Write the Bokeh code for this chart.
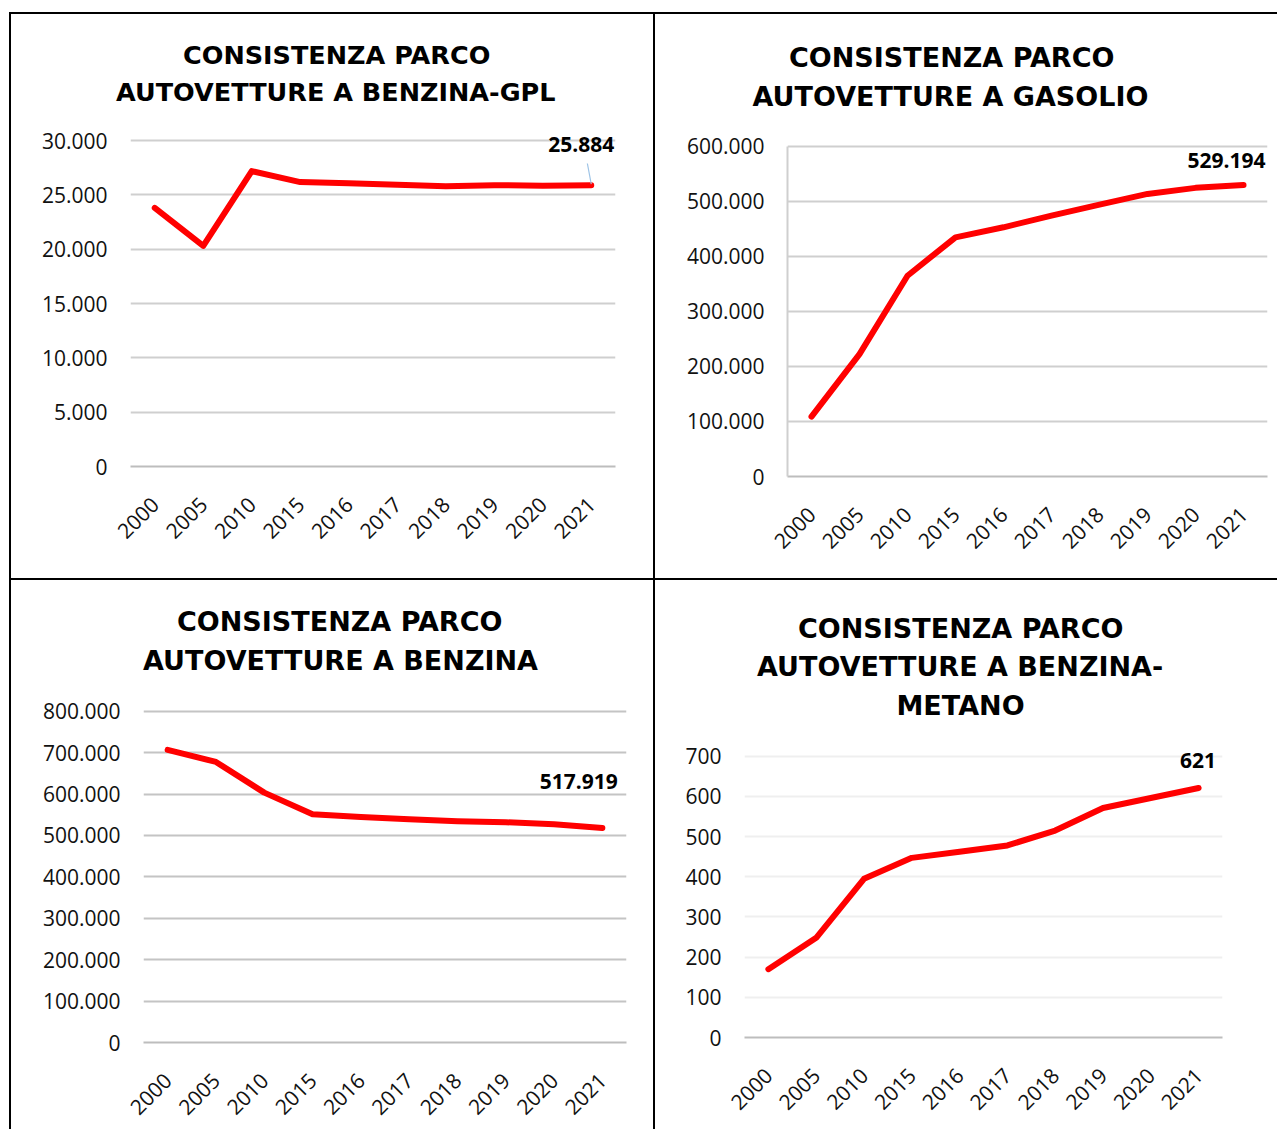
from math import pi
from bokeh.plotting import figure
from bokeh.models import (FactorRange, Range1d, FixedTicker, Title, LabelSet, Spacer,
                          ColumnDataSource)
from bokeh.core.properties import value
from bokeh.layouts import row, column
from bokeh.transform import dodge
from bokeh.embed import file_html
from bokeh.resources import INLINE

# ---------------- data ----------------
years = ["2000", "2005", "2010", "2015", "2016", "2017", "2018", "2019", "2020", "2021"]

gpl_values = [23800, 20300, 27180, 26170, 26070, 25930, 25800, 25890, 25830, 25884]
gasolio_values = [108700, 222200, 364500, 434200, 452400, 473600, 493600, 513000, 524000, 529194]
benzina_values = [706500, 677500, 603400, 551200, 544700, 539100, 534300, 531900, 527000, 517919]
metano_values = [170, 248, 395, 447, 462, 478, 515, 571, 596, 621]

gpl_ticks = [0, 5000, 10000, 15000, 20000, 25000, 30000]
gpl_tick_labels = ["0", "5.000", "10.000", "15.000", "20.000", "25.000", "30.000"]
gasolio_ticks = [0, 100000, 200000, 300000, 400000, 500000, 600000]
gasolio_tick_labels = ["0", "100.000", "200.000", "300.000", "400.000", "500.000", "600.000"]
benzina_ticks = [0, 100000, 200000, 300000, 400000, 500000, 600000, 700000, 800000]
benzina_tick_labels = ["0", "100.000", "200.000", "300.000", "400.000", "500.000",
                       "600.000", "700.000", "800.000"]
metano_ticks = [0, 100, 200, 300, 400, 500, 600, 700]
metano_tick_labels = ["0", "100", "200", "300", "400", "500", "600", "700"]

gpl_title = ["CONSISTENZA PARCO", "AUTOVETTURE A BENZINA-GPL"]
gasolio_title = ["CONSISTENZA PARCO", "AUTOVETTURE A GASOLIO"]
benzina_title = ["CONSISTENZA PARCO", "AUTOVETTURE A BENZINA"]
metano_title = ["CONSISTENZA PARCO", "AUTOVETTURE A BENZINA-", "METANO"]

TITLE_FONT = "DejaVu Sans"
TICK_FONT = "Open Sans"


def it_fmt(v):
    return f"{v:,}".replace(",", ".")


def make_chart(values, ticks, tick_labels, title_lines, title_size, title_offsets, title_standoffs,
               width, height, mb, top_extra_px, tick_span_px,
               yaxis_line, grid_color, zero_color, lab_off):
    # mb = (left, right, top, bottom); frame bottom sits on the zero line,
    # the frame is extended upwards by top_extra_px above the highest tick.
    y_end = ticks[-1] * (1 + top_extra_px / tick_span_px)
    p = figure(x_range=FactorRange(factors=years), y_range=Range1d(ticks[0], y_end),
               width=width, height=height, output_backend="svg", toolbar_location=None,
               title=None, frame_align=False,
               min_border_left=mb[0], min_border_right=mb[1],
               min_border_top=mb[2], min_border_bottom=mb[3],
               outline_line_color=None, border_fill_color="white", background_fill_color="white")

    # title lines: the nearest line to the frame is added first
    items = list(zip(title_lines, title_offsets, title_standoffs))
    for line, off, so in reversed(items):
        p.add_layout(Title(text=line, align="left", offset=off, standoff=so,
                           text_font=TITLE_FONT, text_font_style="bold",
                           text_font_size=f"{title_size}px", text_color="#000000"), "above")

    p.yaxis.ticker = FixedTicker(ticks=ticks)
    p.yaxis.bounds = (ticks[0], ticks[-1])
    p.yaxis.major_label_overrides = {t: s for t, s in zip(ticks, tick_labels)}
    p.yaxis.axis_line_color = yaxis_line
    p.yaxis.axis_line_width = 2
    p.yaxis.major_tick_line_color = None
    p.yaxis.minor_tick_line_color = None
    p.yaxis.major_tick_out = 0
    p.yaxis.major_label_standoff = 23
    p.yaxis.major_label_text_font = TICK_FONT
    p.yaxis.major_label_text_font_size = "21px"
    p.yaxis.major_label_text_color = "#111111"

    p.xaxis.axis_line_color = zero_color
    p.xaxis.axis_line_width = 2
    p.xaxis.major_tick_line_color = None
    p.xaxis.major_tick_out = 0
    p.xaxis.major_label_orientation = pi / 4
    p.xaxis.major_label_standoff = 34
    p.xaxis.major_label_text_font = TICK_FONT
    p.xaxis.major_label_text_font_size = "21px"
    p.xaxis.major_label_text_color = "#111111"

    p.xgrid.visible = False
    p.ygrid.ticker = FixedTicker(ticks=ticks)
    p.ygrid.grid_line_color = grid_color
    p.ygrid.grid_line_width = 2

    p.line(x=years, y=values, line_color="#ff0000", line_width=6,
           line_cap="round", line_join="round")

    lab_src = ColumnDataSource(dict(x=[years[-1]], y=[values[-1]], t=[it_fmt(values[-1])]))
    p.add_layout(LabelSet(x="x", y="y", text="t", source=lab_src,
                          x_offset=lab_off[0], y_offset=lab_off[1],
                          text_align="center", text_baseline="middle",
                          text_font=value(TICK_FONT), text_font_style="bold",
                          text_font_size="21px", text_color="#000000"))
    return p


tl = make_chart(gpl_values, gpl_ticks, gpl_tick_labels, gpl_title, 25.5,
                [52.5, -14.5], [5, 4],
                642, 564, (119, 38, 94, 112), 32, 326,
                None, "#cfcfcf", "#bdbdbd", (-10, 41))
# leader line for the GPL data label
leader = ColumnDataSource(dict(x=[years[-1]], y0=[gpl_values[-1] + 100], y1=[gpl_values[-1] + 2000]))
tl.segment(x0=dodge("x", 0.0, range=tl.x_range), y0="y0",
           x1=dodge("x", -0.08, range=tl.x_range), y1="y1",
           source=leader, line_color="#9dc3e6", line_width=1.2)

tr = make_chart(gasolio_values, gasolio_ticks, gasolio_tick_labels, gasolio_title, 27,
                [1.5, -35], [7, 4],
                622, 564, (132, 10, 99, 102), 32.5, 330.5,
                "#cfcfcf", "#cfcfcf", "#bdbdbd", (-17, 25))
bl = make_chart(benzina_values, benzina_ticks, benzina_tick_labels, benzina_title, 27,
                [33.5, -0.5], [7, 4],
                642, 549, (132, 27, 97, 87), 33.7, 331.3,
                None, "#c4c4c4", "#bdbdbd", (-23.5, 47))
br = make_chart(metano_values, metano_ticks, metano_tick_labels, metano_title, 27,
                [53.5, 12.5, 152], [4, 7, 4],
                622, 549, (89, 55, 142, 92), 33.7, 281.3,
                None, "#efefef", "#bdbdbd", (-0.5, 27))


def bar(w, h):
    return Spacer(width=w, height=h, margin=0, styles={"background-color": "#000000"})


layout = column(
    bar(1268, 2),
    row(bar(2, 564), tl, bar(2, 564), tr, spacing=0),
    bar(1268, 2),
    row(bar(2, 549), bl, bar(2, 549), br, spacing=0),
    spacing=0, margin=(12, 0, 0, 9),
)

open("out.html", "w").write(file_html(layout, INLINE))
